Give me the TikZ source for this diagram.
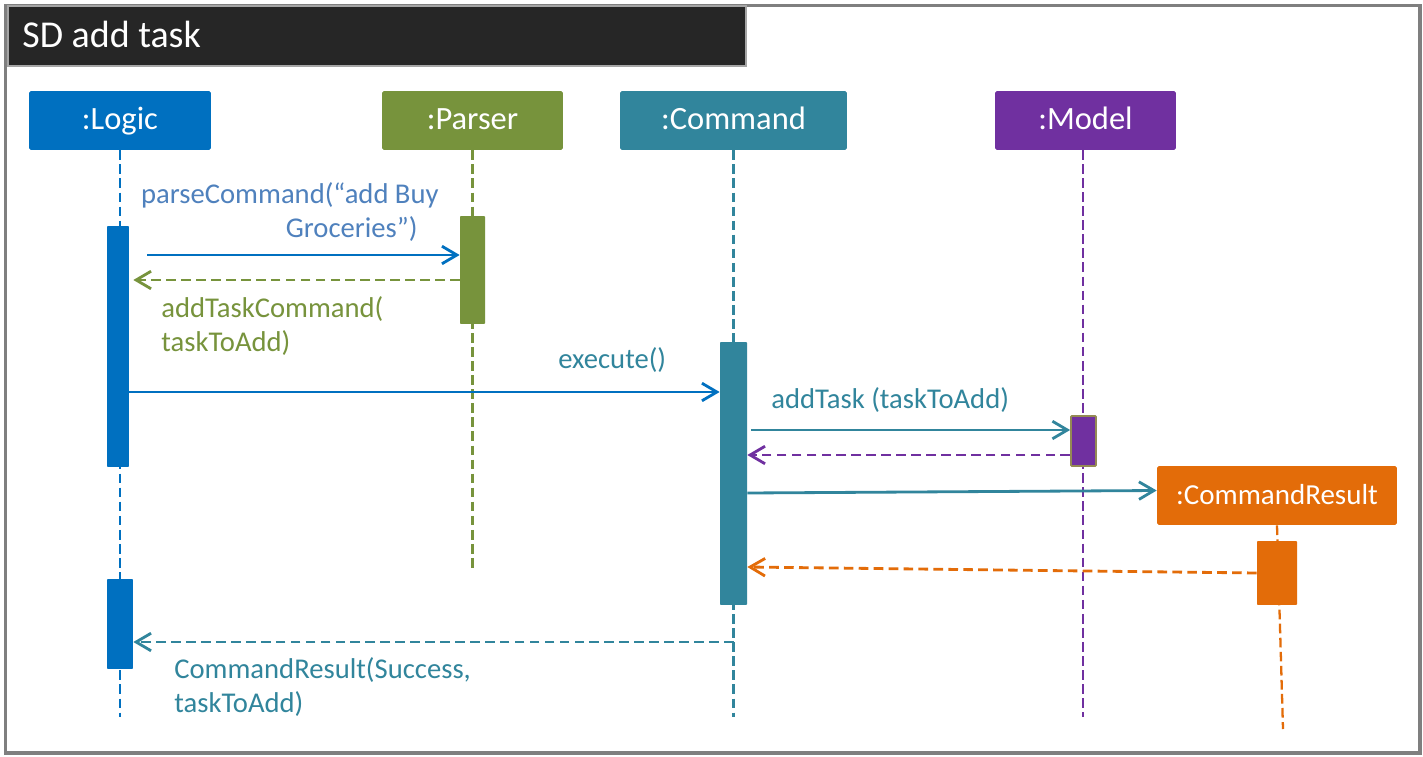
\documentclass[tikz,border=0pt]{standalone}
\usepackage{fontspec}
\setmainfont{Carlito}
\usetikzlibrary{arrows.meta,calc}
\definecolor{logicBlue}{HTML}{0070C0}
\definecolor{parserGreen}{HTML}{77933C}
\definecolor{commandTeal}{HTML}{31859C}
\definecolor{modelPurple}{HTML}{7030A0}
\definecolor{modelEdge}{HTML}{948A54}
\definecolor{resultOrange}{HTML}{E36C09}
\definecolor{callBlue}{HTML}{4F81BD}
\definecolor{frameGray}{HTML}{7F7F7F}
\definecolor{titleBlack}{HTML}{262626}

\begin{document}
\begin{tikzpicture}[x=0.02cm,y=-0.02cm,
  head/.style={fill=#1,text=white,rounded corners=1pt,inner sep=0pt,minimum height=1.18cm,text height=0.98em,text depth=0pt,font=\fontsize{18.5}{22}\selectfont},
  bar/.style={fill=#1,inner sep=0pt,rounded corners=0.5pt},
  life/.style={draw=#1,line width=1.3pt,dash pattern=on 5.5pt off 2.5pt},
  call/.style={draw=#1,line width=1.6pt,-{Straight Barb[length=8.5pt,width=10pt]}},
  reply/.style={call=#1,dash pattern=on 5.5pt off 3pt},
  lbl/.style={text=#1,inner sep=0pt,font=\fontsize{16.3}{19.3}\selectfont}]
\useasboundingbox (0,0) rectangle (1423,757);
\fill[white] (0,0) rectangle (1423,757);
% frame and title
\draw[frameGray,line width=1.8pt] (5.5,5.5) rectangle (1420,753);
\filldraw[fill=titleBlack,draw=frameGray!70,line width=1pt] (8,6) rectangle (746,66);
\node[text=white,inner sep=0pt,anchor=base west,font=\fontsize{21.6}{25}\selectfont] (title) at (22,48) {SD add task};
% heads
\node[head=logicBlue,minimum width=3.64cm] (logic) at (120,120.5) {:Logic};
\node[head=parserGreen,minimum width=3.62cm] (parser) at (472.5,120.5) {:Parser};
\node[head=commandTeal,minimum width=4.54cm] (command) at (733.5,120.5) {:Command};
\node[head=modelPurple,minimum width=3.62cm] (model) at (1085.5,120.5) {:Model};
\node[head=resultOrange,minimum width=4.8cm,font=\fontsize{16.5}{20}\selectfont] (result) at (1277,495.5) {:CommandResult};
% lifelines
\draw[life=logicBlue] (logic.south) -- (logic.south |- 0,717);
\draw[life=parserGreen] (parser.south) -- (parser.south |- 0,568);
\draw[life=commandTeal] (command.south) -- (command.south |- 0,717);
\draw[life=modelPurple] (1083,150) -- (1083,717);
\draw[life=resultOrange] (result.south) -- (1283,729);
% activation bars
\node[bar=logicBlue,minimum width=0.44cm,minimum height=4.82cm] (logicA) at (118,346.5) {};
\node[bar=logicBlue,minimum width=0.52cm,minimum height=1.8cm] (logicB) at (120,624) {};
\node[bar=parserGreen,minimum width=0.5cm,minimum height=2.16cm] (parserA) at (472.5,270) {};
\node[bar=commandTeal,minimum width=0.54cm,minimum height=5.26cm] (commandA) at (733.5,473.5) {};
\node[bar=modelPurple,draw=modelEdge,line width=1pt,minimum width=0.5cm,minimum height=1cm] (modelA) at (1083.5,441) {};
\node[bar=resultOrange,minimum width=0.8cm,minimum height=1.28cm] (resultA) at (1277,573) {};
% messages
\draw[call=logicBlue] ($(logicA.east |- 0,255)+(18,0)$) -- (parserA.west |- 0,255);
\draw[reply=parserGreen] (parserA.west |- 0,280) -- ($(logicA.east |- 0,280)+(4,0)$);
\draw[call=logicBlue] (logicA.east |- 0,392) -- (commandA.west |- 0,392);
\draw[call=commandTeal] ($(commandA.east |- 0,430)+(4,0)$) -- (modelA.west |- 0,430);
\draw[reply=modelPurple] (modelA.west |- 0,455) -- (commandA.east |- 0,455);
\draw[call=commandTeal] (commandA.east |- 0,493) -- ([yshift=0.1cm]result.west);
\draw[reply=resultOrange] (resultA.west) -- (commandA.east |- 0,567);
\draw[reply=commandTeal] (command.south |- 0,642) -- (logicB.east |- 0,642);
% labels
\node[lbl=callBlue,align=right,anchor=north east] (parseLbl) at (439,182) {parseCommand(“add Buy\\Groceries”)\hspace*{12pt}};
\node[lbl=parserGreen,align=left,anchor=north west] (addCmdLbl) at (161,296) {addTaskCommand(\\taskToAdd)};
\node[lbl=commandTeal,anchor=base west] (execLbl) at (558,368) {execute()};
\node[lbl=commandTeal,anchor=base west] (addTaskLbl) at (771,408) {addTask (taskToAdd)};
\node[lbl=commandTeal,align=left,anchor=north west] (resultLbl) at (174,657) {CommandResult(Success,\\taskToAdd)};
\end{tikzpicture}
\end{document}
